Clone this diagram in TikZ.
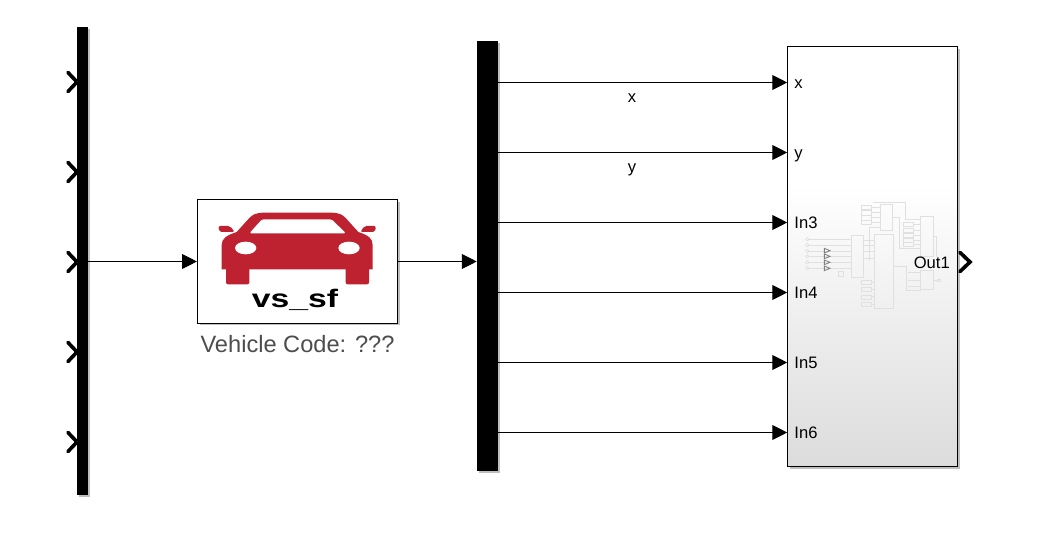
\documentclass[tikz,border=0pt]{standalone}
\usepackage{fontspec}
\setmainfont{Liberation Sans}
\usepackage{xcolor}
\usepackage{tikz}
\usetikzlibrary{arrows.meta,positioning,shadows}
\definecolor{ink}{HTML}{000000}
\definecolor{carred}{HTML}{BE2231}
\definecolor{muted}{HTML}{4D4D4D}
\definecolor{blockgray}{HTML}{DCDCDC}
\definecolor{thumbgray}{HTML}{E0E0E0}
\definecolor{thumbdark}{HTML}{808080}
\tikzset{
  >={Triangle[length=3.7mm,width=3.7mm]},
  softshadow/.style={drop shadow={shadow xshift=.55mm,shadow yshift=-.55mm,opacity=.25,fill=black}},
  busbar/.style={fill=ink,draw=none,inner sep=0pt,softshadow},
  flow/.style={->,line width=.6pt,color=ink},
  chevron/.style={line width=2.6pt,color=ink,line cap=round,line join=miter},
  portlabel/.style={font=\fontsize{11.8}{14}\selectfont,anchor=base west,inner sep=0pt},
  signal/.style={font=\fontsize{11.8}{14}\selectfont,anchor=base,inner sep=0pt},
  thumb/.style={draw=thumbgray,line width=.5pt},
}
\begin{document}
\begin{tikzpicture}[x=.025cm,y=-.025cm]
  \useasboundingbox (0,0) rectangle (1046,538);
  % bars
  \node[busbar,minimum width=.275cm,minimum height=11.7cm] (mux) at (82.5,261) {};
  \node[busbar,minimum width=.525cm,minimum height=10.75cm] (bus) at (487.5,256) {};
  % vehicle block
  \node[draw=ink,fill=white,line width=.75pt,softshadow,minimum width=5cm,minimum height=3.08cm] (block) at (297.5,261.5) {};
  \begin{scope}[shift={(190,190)},x=.025cm/3,y=-.025cm/3]
    \fill[carred] (95,238) -- (95,165) .. controls (95,145) and (110,136) .. (140,126) -- (178,84) .. controls (190,72) and (200,68) .. (225,68) -- (420,68) .. controls (445,68) and (455,72) .. (467,84) -- (505,126) .. controls (535,136) and (548,145) .. (548,165) -- (548,238) -- cycle;
    \fill[carred,rounded corners=.5mm] (108,225) rectangle (178,283);
    \fill[carred,rounded corners=.5mm] (467,225) rectangle (537,283);
    \fill[carred,rounded corners=.5mm] (85,108) -- (120,108) -- (134,126) -- (88,126) -- cycle;
    \fill[carred,rounded corners=.5mm] (558,108) -- (523,108) -- (511,126) -- (555,126) -- cycle;
    \fill[white,rounded corners=.4mm] (178,130) -- (216,88) -- (425,88) -- (468,130) -- cycle;
    \fill[white] (167,174) ellipse (32 and 19);
    \fill[white] (477,174) ellipse (32 and 19);
  \end{scope}
  \node[font=\bfseries\fontsize{18}{20}\selectfont,xscale=1.33,inner sep=0pt,anchor=base] (blockname) at (295,307) {vs\_sf};
  \node[below=2.8mm of block,inner sep=0pt,font=\fontsize{16.8}{20}\selectfont,text=muted] (blocklabel) {Vehicle Code: ???};
  % subsystem
  \node[draw=none,fill=white,softshadow,minimum width=4.25cm,minimum height=10.5cm] (sub) at (872.5,256.5) {};
  \path[top color=white,bottom color=blockgray] (sub.west |- 0,185) rectangle (sub.south east);
  \begin{scope}[shift={(780,180)},x=.025cm/3,y=-.025cm/3]
    \foreach \yy in {178,195,213,229,247,264} {
      \draw[thumb] (88,\yy) -- (215,\yy);
      \draw[thumb] (82,\yy) circle (5);
    }
    \foreach \yy in {205,222,240,258}
      \draw[thumbdark,line width=.6pt] (133,\yy) -- (133,\yy+14) -- (150,\yy+7) -- cycle;
    \draw[thumb] (215,166) rectangle (251,293);
    \draw[thumb] (284,163) rectangle (341,386);
    \draw[thumb] (302,73) rectangle (336,152);
    \draw[thumb] (422,110) rectangle (461,229);
    \draw[thumb] (422,272) rectangle (461,328);
    \draw[thumb] (176,274) rectangle (190,289);
    \draw[thumb] (471,298) rectangle (482,303);
    \foreach \yy in {76,92,107,120}
      \draw[thumb] (245,\yy) rectangle (275,\yy+13);
    \foreach \yy in {128,144,160,176,188}
      \draw[thumb] (371,\yy) rectangle (401,\yy+12);
    \foreach \yy in {302,322,345,367}
      \draw[thumb] (245,\yy) rectangle (275,\yy+12);
    \draw[thumb] (280,67) -- (377,67) -- (377,118) -- (422,118);
    \draw[thumb] (275,82) -- (302,82) (275,98) -- (302,98) (275,113) -- (302,113) (275,126) -- (302,126);
    \draw[thumb] (336,113) -- (359,113) -- (359,205) -- (422,205);
    \draw[thumb] (251,180) -- (284,180) (251,197) -- (284,197) (251,215) -- (284,215) (251,235) -- (284,235);
    \draw[thumb] (268,243) -- (268,142) -- (302,142);
    \draw[thumb] (401,134) -- (422,134) (401,150) -- (422,150) (401,166) -- (422,166) (401,182) -- (422,182) (401,194) -- (422,194);
    \draw[thumb] (341,260) -- (380,260) -- (380,332) -- (422,332);
    \draw[thumb] (385,278) -- (422,278) (385,300) -- (422,300) (385,320) -- (422,320);
    \draw[thumb] (461,168) -- (470,168) -- (470,230);
    \draw[thumb] (461,300) -- (471,300);
    \foreach \yy in {308,328,350,372}
      \draw[thumb] (275,\yy) -- (284,\yy);
  \end{scope}
  \draw[line width=.75pt,color=ink] (sub.north west) rectangle (sub.south east);
  \node[anchor=base east,font=\fontsize{11.8}{14}\selectfont,inner sep=0pt] (outlabel) at (950,268) {Out1};
  % connectors
  \draw[flow] (mux.east |- block.west) -- (block.west);
  \draw[flow] (block.east) -- (bus.west |- block.east);
  \foreach \i/\portname/\yy in {1/x/82.5,2/y/152.5,3/In3/222.5,4/In4/292.5,5/In5/362.5,6/In6/432.5} {
    \coordinate (port\i) at (sub.west |- 0,\yy);
    \draw[flow] (bus.east |- port\i) -- (port\i);
    \node[portlabel] (name\i) at ([xshift=.175cm,yshift=-.14cm]port\i) {\portname};
  }
  \node[signal] (sigx) at (632,103) {x};
  \node[signal] (sigy) at (632,173) {y};
  % open ends
  \foreach \i/\yy in {1/82,2/172,3/262,4/352,5/442}
    \draw[chevron] (68,\yy-9.5) -- (77,\yy) -- (68,\yy+9.5);
  \draw[chevron] (960,252.5) -- (970,262) -- (960,271.5);
\end{tikzpicture}
\end{document}
